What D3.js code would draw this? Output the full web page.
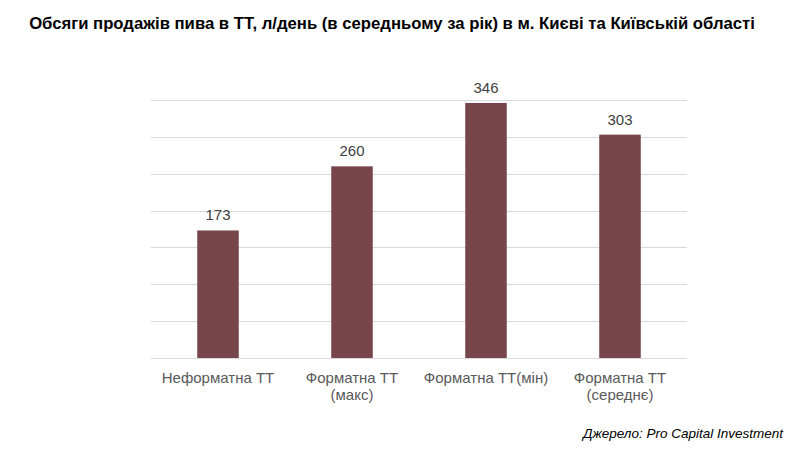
<!DOCTYPE html>
<html>
<head>
<meta charset="utf-8">
<script src="https://cdn.jsdelivr.net/npm/d3@7"></script>
<style>
  body { margin: 0; background: #fff; }
  svg { font-family: "Liberation Sans", Arial, sans-serif; }
</style>
</head>
<body>
<svg id="chart" width="805" height="468"></svg>
<script>
// categories and values
var categories = [["Неформатна ТТ"], ["Форматна ТТ", "(макс)"], ["Форматна ТТ(мін)"], ["Форматна ТТ", "(середнє)"]];
var values = [173, 260, 346, 303];
var gridTicks = [0, 50, 100, 150, 200, 250, 300, 350];

var svg = d3.select("#chart");
var margin = {left: 151, right: 118, top: 100, bottom: 110};
var width = 805 - margin.left - margin.right;
var height = 468 - margin.top - margin.bottom;

// title
svg.append("text")
    .attr("x", 392)
    .attr("y", 29)
    .attr("text-anchor", "middle")
    .style("font-size", "16.7px")
    .style("font-weight", "bold")
    .style("fill", "#000")
    .text("Обсяги продажів пива в ТТ, л/день (в середньому за рік) в м. Києві та Київській області");

var g = svg.append("g").attr("transform", "translate(" + margin.left + "," + margin.top + ")");

var x = d3.scaleBand()
    .domain(d3.range(values.length))
    .range([0, width])
    .paddingInner(0.69)
    .paddingOuter(0.345);

var y = d3.scaleLinear().domain([0, 350]).range([height, 0]);

// gridlines
g.selectAll(".grid")
    .data(gridTicks)
    .enter().append("line")
    .attr("class", "grid")
    .attr("x1", 0)
    .attr("x2", width)
    .attr("y1", function(d) { return Math.round(y(d)) + 0.5; })
    .attr("y2", function(d) { return Math.round(y(d)) + 0.5; })
    .style("stroke", "#d9d9d9")
    .style("stroke-width", 1);

// bars
g.selectAll(".bar")
    .data(values)
    .enter().append("rect")
    .attr("class", "bar")
    .attr("x", function(d, i) { return x(i); })
    .attr("y", function(d) { return y(d); })
    .attr("width", x.bandwidth())
    .attr("height", function(d) { return height - y(d); })
    .style("fill", "#77464a");

// value labels
g.selectAll(".val")
    .data(values)
    .enter().append("text")
    .attr("class", "val")
    .attr("x", function(d, i) { return x(i) + x.bandwidth() / 2; })
    .attr("y", function(d) { return y(d) - 10; })
    .attr("text-anchor", "middle")
    .style("font-size", "15px")
    .style("fill", "#404040")
    .text(function(d) { return d; });

// category labels
var cat = g.selectAll(".cat")
    .data(categories)
    .enter().append("text")
    .attr("class", "cat")
    .attr("text-anchor", "middle")
    .attr("transform", function(d, i) { return "translate(" + (x(i) + x.bandwidth() / 2) + "," + (height + 25) + ")"; })
    .style("font-size", "15px")
    .style("fill", "#595959");

cat.selectAll("tspan")
    .data(function(d) { return d; })
    .enter().append("tspan")
    .attr("x", 0)
    .attr("dy", function(d, i) { return i === 0 ? 0 : 17; })
    .text(function(d) { return d; });

// source
svg.append("text")
    .attr("x", 783)
    .attr("y", 438)
    .attr("text-anchor", "end")
    .style("font-size", "13.5px")
    .style("font-style", "italic")
    .style("fill", "#000")
    .text("Джерело: Pro Capital Investment");
</script>
</body>
</html>
